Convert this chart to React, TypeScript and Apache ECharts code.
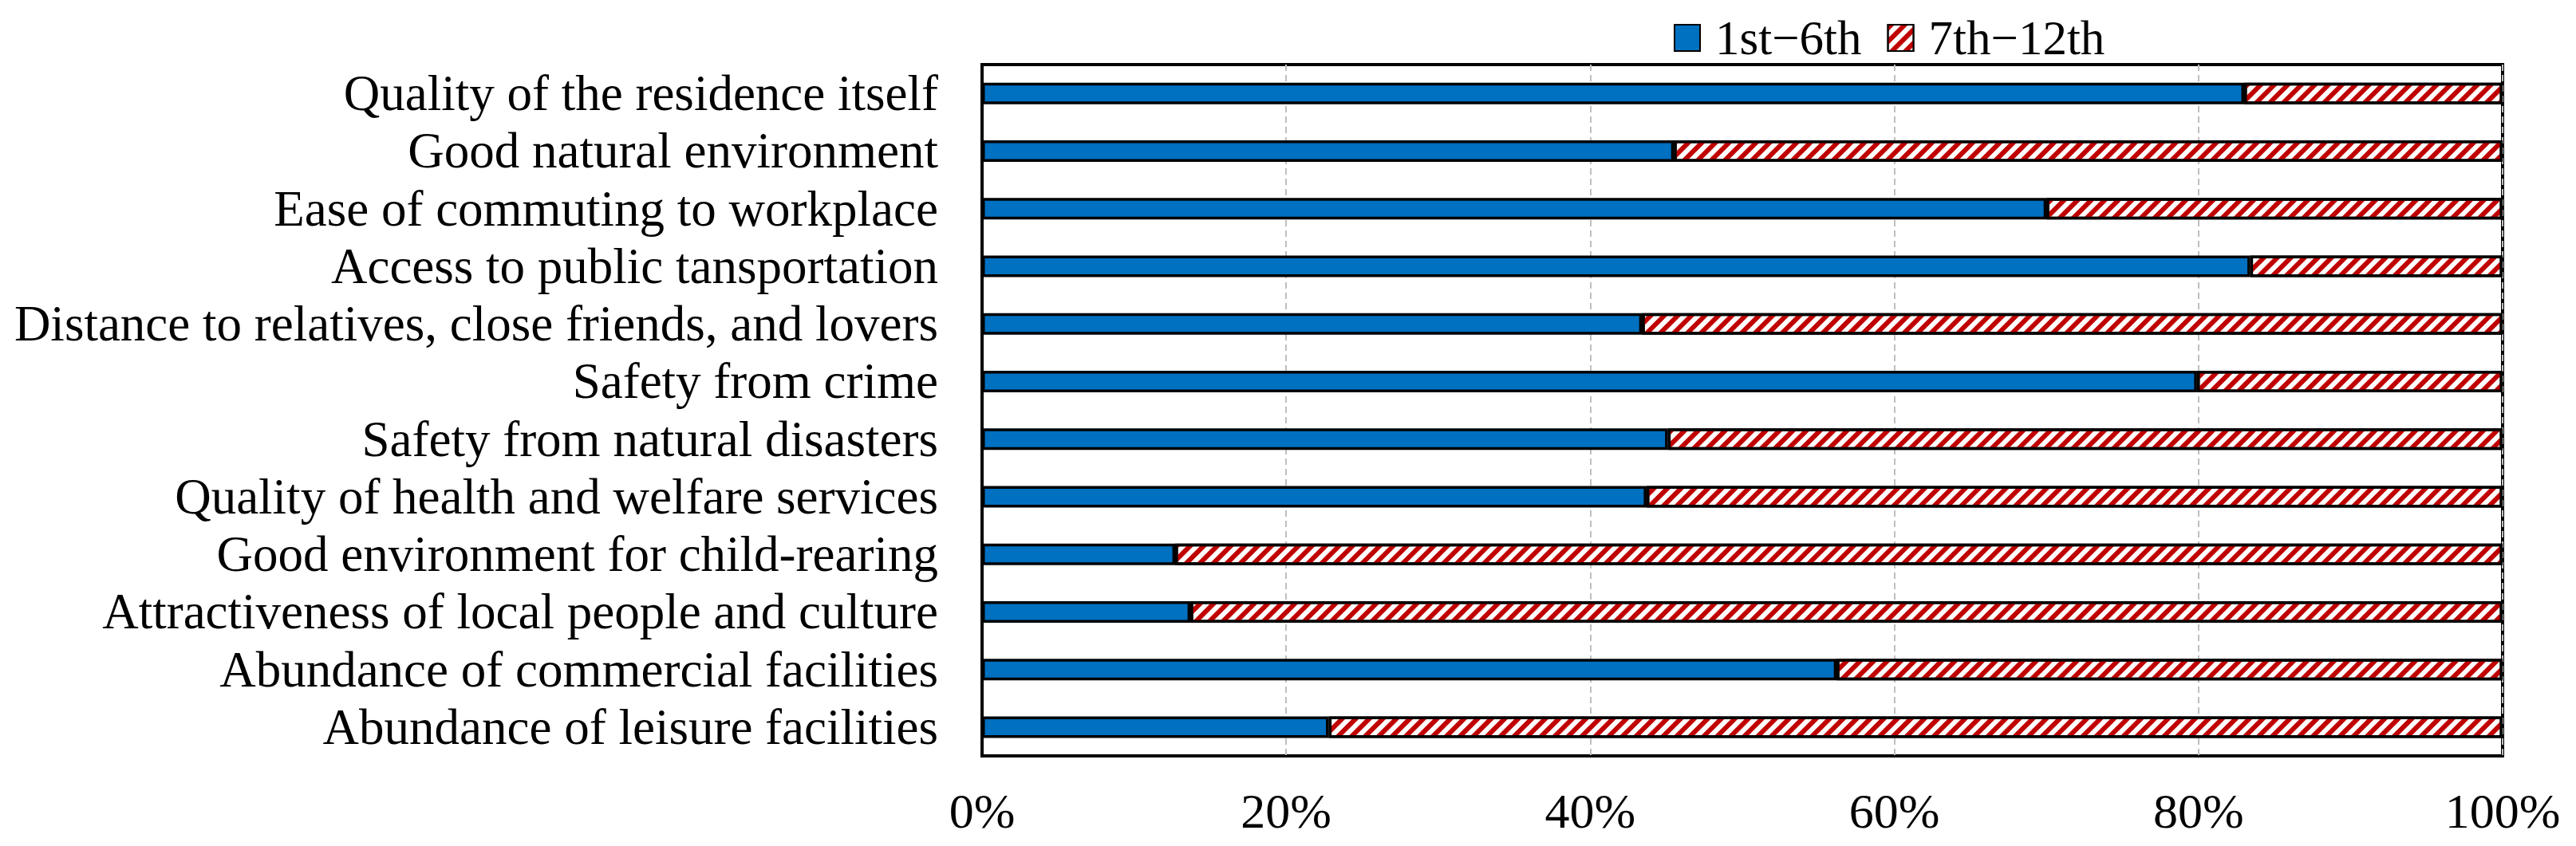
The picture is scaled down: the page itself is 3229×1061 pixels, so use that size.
import React, { useEffect, useRef } from "react";
import * as echarts from "echarts";

const categories = [
  "Quality of the residence itself",
  "Good natural environment",
  "Ease of commuting to workplace",
  "Access to public tansportation",
  "Distance to relatives, close friends, and lovers",
  "Safety from crime",
  "Safety from natural disasters",
  "Quality of health and welfare services",
  "Good environment for child-rearing",
  "Attractiveness of local people and culture",
  "Abundance of commercial facilities",
  "Abundance of leisure facilities",
];

const seriesNames = ["1st\u22126th", "7th\u221212th"];
const first6 = [83.0, 45.5, 70.0, 83.4, 43.4, 79.9, 45.1, 43.7, 12.7, 13.7, 56.2, 22.8];
const last6 = [17.0, 54.5, 30.0, 16.6, 56.6, 20.1, 54.9, 56.3, 87.3, 86.3, 43.8, 77.2];
const xTicks = [0, 20, 40, 60, 80, 100];

const FONT = "'Liberation Serif', 'Times New Roman', serif";

export default function App() {
  const ref = useRef<HTMLDivElement>(null);
  useEffect(() => {
    document.body.style.margin = "0";
    if (!ref.current) return;
    const chart = echarts.init(ref.current, undefined, { renderer: "svg" });
    chart.setOption({
      animation: false,
      backgroundColor: "#fff",
      textStyle: { fontFamily: FONT, color: "#000" },
      legend: {
        left: 2093,
        top: 12,
        itemWidth: 32,
        itemHeight: 33,
        itemGap: 32,
        icon: "rect",
        textStyle: { fontFamily: FONT, fontSize: 61, color: "#000", padding: [0, 0, 0, 14] },
        data: seriesNames,
      },
      grid: {
        left: 1231,
        right: 92,
        top: 81,
        bottom: 113,
        show: true,
        borderColor: "#000",
        borderWidth: 4,
        containLabel: false,
      },
      xAxis: {
        type: "value",
        min: xTicks[0],
        max: xTicks[xTicks.length - 1],
        interval: 20,
        axisLine: { show: false },
        axisTick: { show: false },
        axisLabel: {
          formatter: (v: number) => `${v}%`,
          fontFamily: FONT,
          fontSize: 62,
          color: "#000",
          margin: 38,
        },
        splitLine: {
          show: true,
          lineStyle: { color: "#BFBFBF", width: 2, type: [8, 5] },
        },
      },
      yAxis: {
        type: "category",
        data: categories,
        inverse: true,
        axisLine: { show: true, lineStyle: { color: "#000", width: 4 } },
        axisTick: { show: false },
        axisLabel: {
          interval: 0,
          fontFamily: FONT,
          fontSize: 63,
          color: "#000",
          margin: 55,
        },
      },
      series: [
        {
          name: seriesNames[0],
          type: "bar",
          stack: "total",
          barWidth: 27,
          data: first6,
          itemStyle: { color: "#0070C0", borderColor: "#000", borderWidth: 3.5 },
        },
        {
          name: seriesNames[1],
          type: "bar",
          stack: "total",
          barWidth: 27,
          data: last6,
          itemStyle: {
            color: "#FFFFFF",
            borderColor: "#000",
            borderWidth: 3.5,
            decal: {
              symbol: "rect",
              symbolSize: 1,
              color: "#C00000",
              backgroundColor: "#FFFFFF",
              dashArrayX: [1, 0],
              dashArrayY: [6, 6],
              rotation: -Math.PI / 4,
            },
          },
        },
      ],
    });
    return () => chart.dispose();
  }, []);
  return <div ref={ref} style={{ width: 3229, height: 1061 }} />;
}
